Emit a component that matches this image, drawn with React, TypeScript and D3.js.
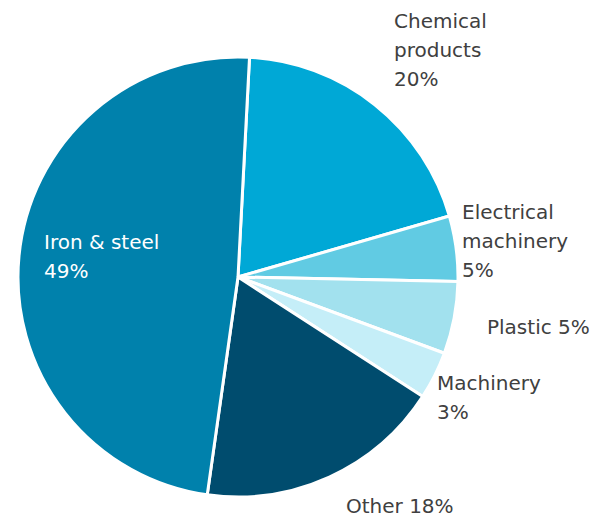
import React from "react";
import * as d3 from "d3";

const categories = ["Chemical products", "Electrical machinery", "Plastic", "Machinery", "Other", "Iron & steel"];
const values = [19.7, 4.8, 5.3, 3.5, 18.1, 48.6];
const percentLabels = ["20%", "5%", "5%", "3%", "18%", "49%"];
const colors = ["#00A8D6", "#61CBE3", "#A2E1EE", "#C5EEF8", "#004C6E", "#0081AC"];
// label lines per slice
const labelLines = [
  ["Chemical", "products", "20%"],
  ["Electrical", "machinery", "5%"],
  ["Plastic 5%"],
  ["Machinery", "3%"],
  ["Other 18%"],
  ["Iron & steel", "49%"],
];
const labelPos = [
  [394, 28],
  [462, 219],
  [487, 334],
  [437, 390],
  [346, 513],
  [44, 249],
];

export default function App() {
  const W = 592, H = 519;
  const cx = 238, cy = 277, r = 220;
  const pie = d3.pie<number>().sort(null).startAngle((3 * Math.PI) / 180).endAngle((363 * Math.PI) / 180);
  const arcs = pie(values);
  const arc = d3.arc<d3.PieArcDatum<number>>().innerRadius(0).outerRadius(r);
  return (
    <svg width={W} height={H} style={{ position: "absolute", left: 0, top: 0 }}
      fontFamily="'DejaVu Sans', sans-serif">
      <g transform={`translate(${cx},${cy})`}>
        {arcs.map((a, i) => (
          <path key={categories[i]} d={arc(a) || ""} fill={colors[i]} stroke="#fff" strokeWidth={3} strokeLinejoin="round" />
        ))}
      </g>
      {labelLines.map((lines, i) => (
        <text key={i} x={labelPos[i][0]} y={labelPos[i][1]} fontSize={20}
          fill={i === 5 ? "#ffffff" : "#404040"}>
          {lines.map((l, j) => (
            <tspan key={j} x={labelPos[i][0]} dy={j === 0 ? 0 : 29}>{l}</tspan>
          ))}
        </text>
      ))}
    </svg>
  );
}
